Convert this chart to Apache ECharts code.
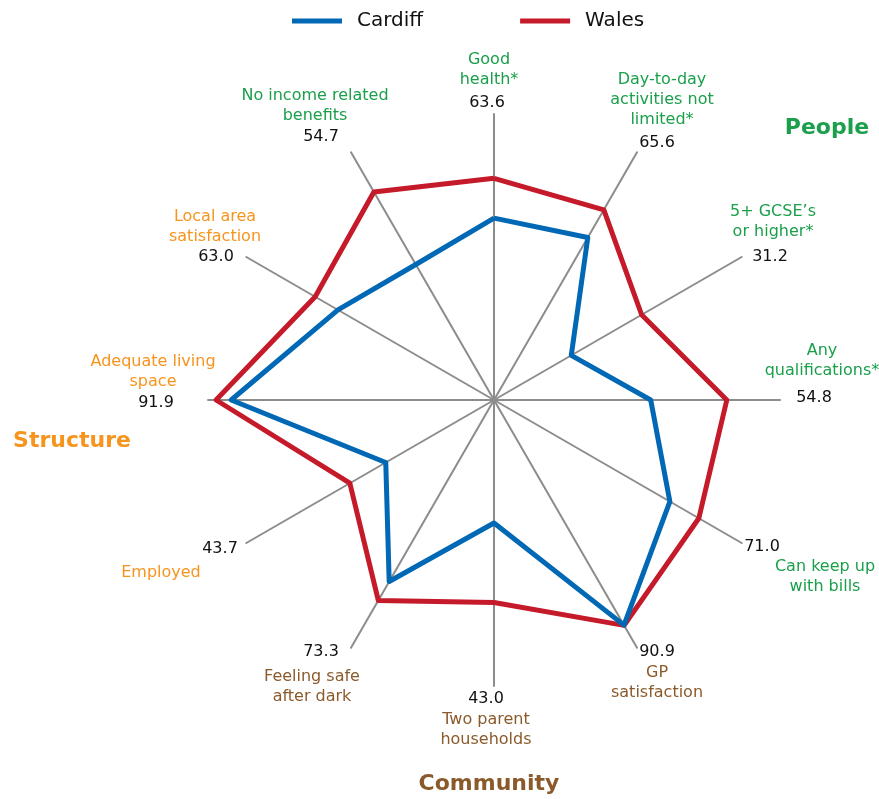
<!DOCTYPE html>
<html>
<head>
<meta charset="utf-8">
<script src="https://cdn.jsdelivr.net/npm/echarts@6/dist/echarts.min.js"></script>
<style>
  html, body { margin: 0; padding: 0; background: #fff; }
  #chart { width: 879px; height: 799px; }
</style>
</head>
<body>
<div id="chart"></div>
<script>
  // indicators, clockwise from the top
  var categories = ['Good\nhealth*', 'Day-to-day\nactivities not\nlimited*', '5+ GCSE\u2019s\nor higher*',
    'Any\nqualifications*', 'Can keep up\nwith bills', 'GP\nsatisfaction', 'Two parent\nhouseholds',
    'Feeling safe\nafter dark', 'Employed', 'Adequate living\nspace', 'Local area\nsatisfaction',
    'No income related\nbenefits'];
  var groups = ['People', 'People', 'People', 'People', 'People', 'Community', 'Community',
    'Community', 'Structure', 'Structure', 'Structure', 'People'];
  var cardiff = [63.6, 65.6, 31.2, 54.8, 71.0, 90.9, 43.0, 73.3, 43.7, 91.9, 63.0, 54.7];
  var wales = [77.5, 76.8, 59.6, 81.4, 82.7, 91.0, 70.8, 80.9, 58.2, 97.2, 72.2, 84.0];
  var groupNames = ['People', 'Structure', 'Community'];

  var groupColors = { People: '#1a9f4b', Structure: '#f7941d', Community: '#8b5a2b' };

  // where the name block and the value go for each indicator [nameX, nameY, valueX, valueY]
  var labelPos = [
    [489, 70, 487, 103],
    [662, 100, 657, 143],
    [773, 222, 770, 257],
    [822, 361, 814, 398],
    [825, 577, 762, 547],
    [657, 683, 657, 652],
    [486, 730, 486, 699],
    [312, 687, 321, 652],
    [161, 573, 220, 549],
    [153, 372, 156, 403],
    [215, 227, 216, 257],
    [315, 106, 321, 137]
  ];
  var groupPos = { People: [827, 128], Structure: [72, 441], Community: [489, 784] };

  // echarts lays radar indicators out counter-clockwise, so reorder
  var order = [0];
  for (var k = categories.length - 1; k > 0; k--) order.push(k);
  function reorder(arr) { return order.map(function (i) { return arr[i]; }); }

  var font = 'DejaVu Sans, Verdana, sans-serif';
  var graphics = [];
  categories.forEach(function (name, i) {
    var p = labelPos[i];
    graphics.push({
      type: 'text', z: 10,
      style: { text: name, x: p[0], y: p[1], fill: groupColors[groups[i]],
        font: '16px ' + font, align: 'center', verticalAlign: 'middle', lineHeight: 20 }
    });
    graphics.push({
      type: 'text', z: 10,
      style: { text: cardiff[i].toFixed(1), x: p[2], y: p[3], fill: '#111',
        font: '16px ' + font, align: 'center', verticalAlign: 'middle' }
    });
  });
  groupNames.forEach(function (g) {
    graphics.push({
      type: 'text', z: 10,
      style: { text: g, x: groupPos[g][0], y: groupPos[g][1], fill: groupColors[g],
        font: 'bold 22px ' + font, align: 'center', verticalAlign: 'middle' }
    });
  });

  var myChart = echarts.init(document.getElementById('chart'));
  var option = {
    animation: false,
    legend: {
      left: 292,
      top: 11,
      padding: 0,
      icon: 'rect',
      itemWidth: 50,
      itemHeight: 5,
      itemGap: 97,
      textStyle: { fontSize: 20, color: '#111', fontFamily: font, padding: [0, 0, 0, 10] },
      data: ['Cardiff', 'Wales']
    },
    radar: {
      center: [494, 400],
      radius: 286,
      startAngle: 90,
      shape: 'polygon',
      indicator: reorder(categories).map(function (c) { return { name: c, min: 0, max: 100 }; }),
      axisName: { show: false },
      splitLine: { show: false },
      splitArea: { show: false },
      axisTick: { show: false },
      axisLabel: { show: false },
      axisLine: { lineStyle: { color: '#8c8c8c', width: 2 } }
    },
    graphic: graphics,
    series: [{
      type: 'radar',
      symbol: 'none',
      data: [
        { name: 'Wales', value: reorder(wales), itemStyle: { color: '#c41a2a' },
          lineStyle: { color: '#c41a2a', width: 5 } },
        { name: 'Cardiff', value: reorder(cardiff), itemStyle: { color: '#0068b4' },
          lineStyle: { color: '#0068b4', width: 5 } }
      ]
    }]
  };
  myChart.setOption(option);
</script>
</body>
</html>
